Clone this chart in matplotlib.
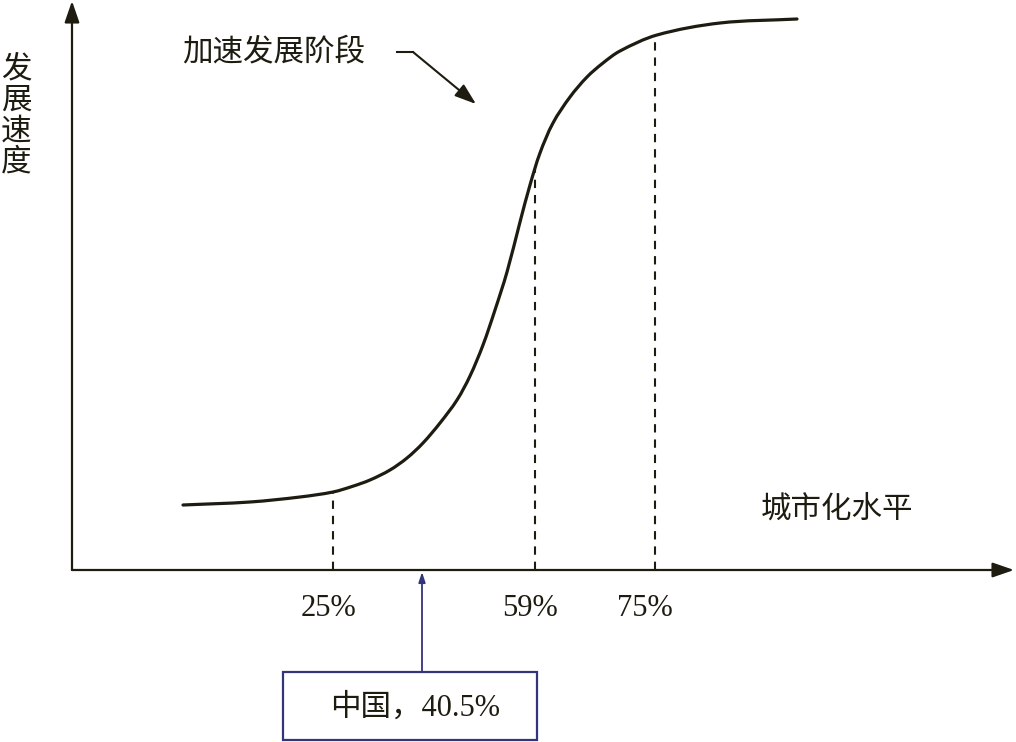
import numpy as np
import matplotlib.pyplot as plt
from matplotlib.patches import Rectangle, PathPatch
from matplotlib.path import Path

plt.rcParams['font.family'] = ['Liberation Serif', 'Noto Sans CJK SC', 'DejaVu Sans']
plt.rcParams['lines.scale_dashes'] = False

# S-curve (schematic units, origin at the axis crossing)
curve_x = [111, 178, 228, 261, 280, 298, 318, 335, 351, 368, 385, 398, 411, 423, 435, 448,
           458, 468, 481, 498, 515, 531, 548, 585, 648, 725]
curve_y = [65, 68, 73, 78, 83.5, 90, 100, 112, 127, 147, 170, 194, 225, 260, 298, 348,
           385, 417, 447, 473, 493, 507, 519, 535, 547, 551]

tick_pos = [261, 463, 583]
tick_labels = ['25%', '59%', '75%']
label_shift = [-4, -5, -10]

china_pos = 350
china_label = '中国，40.5%'
stage_label = '加速发展阶段'
x_title = '城市化水平'
y_title = '发展速度'

ink = '#1e1c10'
navy = '#34347a'


def smooth_path(xs, ys):
    # chordal Catmull-Rom through the points, as cubic Bezier segments
    p = np.column_stack([xs, ys]).astype(float)
    d = np.hypot(*np.diff(p, axis=0).T)
    t = np.concatenate([[0], np.cumsum(d)])
    m = np.zeros_like(p)
    m[1:-1] = (p[2:] - p[:-2]) / (t[2:] - t[:-2])[:, None]
    m[0] = (p[1] - p[0]) / d[0]
    m[-1] = (p[-1] - p[-2]) / d[-1]
    verts = [p[0]]
    codes = [Path.MOVETO]
    for i in range(len(p) - 1):
        verts += [p[i] + m[i] * d[i] / 3, p[i + 1] - m[i + 1] * d[i] / 3, p[i + 1]]
        codes += [Path.CURVE4] * 3
    return Path(verts, codes)


fig = plt.figure(figsize=(10.16, 7.42), dpi=100)
ax = fig.add_axes([0, 0, 1, 1])
ax.set_xlim(-72, 944)
ax.set_ylim(-172, 570)
ax.axis('off')

# axes with arrow heads
arr = dict(arrowstyle='-|>,head_length=1.3,head_width=0.45', lw=1.6, color=ink,
           shrinkA=0, shrinkB=0)
ax.annotate('', xy=(0, 569), xytext=(0, 0), arrowprops=arr)
ax.annotate('', xy=(942, 0), xytext=(0, 0), arrowprops=arr)

# the curve
ax.add_patch(PathPatch(smooth_path(curve_x, curve_y), fill=False, edgecolor=ink,
                       lw=2.3, capstyle='round'))

# dashed guides and tick labels
for tp, lab, s in zip(tick_pos, tick_labels, label_shift):
    top = np.interp(tp, curve_x, curve_y)
    ax.plot([tp, tp], [0, top], color=ink, lw=1.5, dashes=(6, 5))
    ax.text(tp + s, -38, lab, fontsize=22, ha='center', va='center', color=ink)

# stage annotation
ax.plot([325, 341], [518, 518], color=ink, lw=1.5)
ax.annotate('', xy=(404, 466), xytext=(341, 518),
            arrowprops=dict(arrowstyle='-|>,head_length=1.3,head_width=0.45', lw=1.5,
                            color=ink, shrinkA=0, shrinkB=0))
ax.text(202, 517, stage_label, fontsize=22, ha='center', va='center', color=ink)

# axis titles
ax.text(765, 60, x_title, fontsize=22, ha='center', va='center', color=ink)
for i, ch in enumerate(y_title):
    ax.text(-56, 500 - i * 31, ch, fontsize=22, ha='center', va='center', color=ink)

# China marker and box
ax.annotate('', xy=(china_pos, -2), xytext=(china_pos, -102),
            arrowprops=dict(arrowstyle='-|>,head_length=0.6,head_width=0.2', lw=1.3,
                            color=navy, shrinkA=0, shrinkB=0))
ax.add_patch(Rectangle((211, -170), 254, 68, fill=False, edgecolor=navy, lw=1.6))
ax.text(343, -138, china_label, fontsize=22, ha='center', va='center', color=ink)

fig.savefig('out.png', dpi=100)
